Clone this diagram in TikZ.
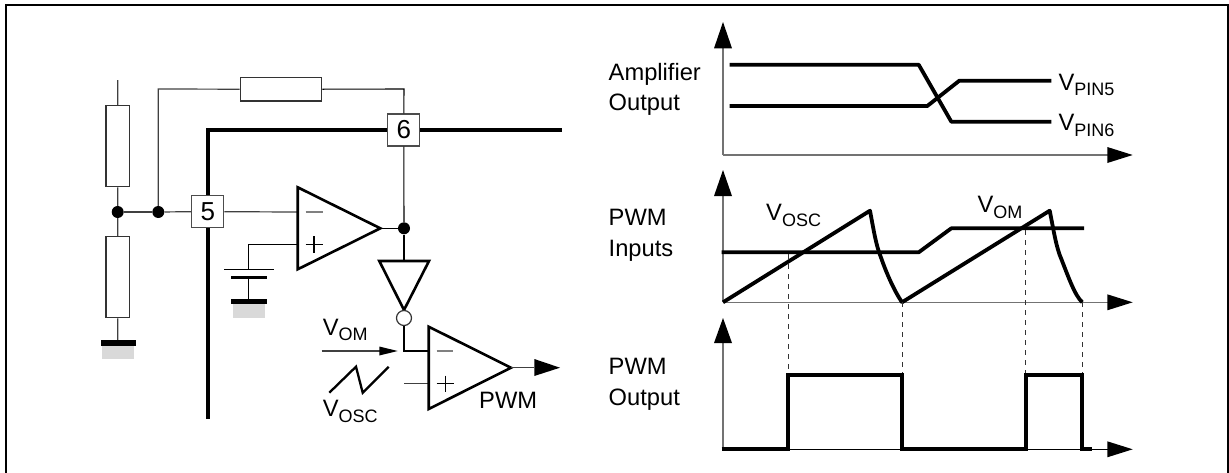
\documentclass[tikz,border=0pt]{standalone}
\usepackage{fontspec}
\setmainfont{Liberation Sans}
\tikzset{
  x=1pt,y=-1pt,
  thin wire/.style={line width=1.2pt,draw=black!75},
  hair/.style={line width=1.1pt,draw=black},
  thick wire/.style={line width=4pt,draw=black},
  curve/.style={line width=3.8pt,draw=black,line join=round},
  axis/.style={line width=1.6pt,draw=black!55},
  pinbox/.style={draw=black!70,line width=1.3pt,fill=white,minimum size=32pt,inner sep=0pt,font=\fontsize{26}{26}\selectfont},
  resbox/.style={draw=black!80,line width=1.3pt,fill=white,inner sep=0pt},
  amp/.style={line width=2.6pt,draw=black,fill=white,line join=miter},
  dot/.style={circle,fill=black,inner sep=0pt,minimum size=12pt},
  lab/.style={anchor=base west,inner sep=0pt,font=\fontsize{23.7}{27}\selectfont},
  dash line/.style={line width=1pt,draw=black!80,dash pattern=on 5pt off 5pt},
  solid head/.style={fill=black,draw=none},
}
\newcommand{\volt}[1]{V\raisebox{-5.5pt}{\fontsize{18}{18}\selectfont #1}}
\begin{document}
\begin{tikzpicture}
\useasboundingbox (0,0) rectangle (1229,472);
\draw[line width=2pt,draw=black] (6,473) -- (6,5) -- (1228,5) -- (1228,473);

% wires behind
\draw[thick wire,line cap=rect] (207.7,417.3) -- (207.7,130) -- (560,130);
\coordinate (restop) at (117.7,80);
\coordinate (gndL) at (117.7,342.7);
\node[dot] (j1) at (117.7,212) {};
\node[dot] (j2) at (158.3,212) {};
\node[dot] (j3) at (404,228.3) {};
\node[resbox,minimum width=23.7pt,minimum height=81pt] (r1) at (117.8,146.2) {};
\node[resbox,minimum width=23.7pt,minimum height=81pt] (r2) at (117.8,277.2) {};
\node[resbox,minimum width=81.4pt,minimum height=23.7pt] (r3) at (281,89.2) {};
\node[pinbox] (p5) at (207.8,211.7) {5};
\node[pinbox] (p6) at (403.8,130) {6};
\coordinate (fbcorner1) at (158.3,89);
\coordinate (fbcorner2) at (404,89);
\draw[thin wire] (restop) -- (r1.north);
\draw[thin wire] (r1.south) -- (j1);
\draw[thin wire] (j1) -- (r2.north);
\draw[thin wire] (r2.south) -- (gndL);
\draw[thin wire] (j1) -- (j2);
\draw[thin wire] (j2) -- (p5.west);
\draw[thin wire] (j2) -- (fbcorner1) -- (r3.west);
\draw[hair] (r3.east) -- (fbcorner2) -- (p6.north);
\draw[hair] (p6.south) -- (j3);

% ground left
\fill[black!15] (102,345.7) rectangle (134,359);
\fill (100.7,340.2) rectangle (136,345.7);

% op amp 1
\coordinate (a1m) at (297.7,212);
\coordinate (a1p) at (297.7,244.3);
\coordinate (a1o) at (380.3,228.3);
\coordinate (capT) at (248.3,269.3);
\coordinate (capB) at (248.3,277.3);
\coordinate (capG) at (248.3,300);
\draw[thin wire] (p5.east) -- (a1m);
\draw[hair] (a1p) -- (248.3,244.3) -- (capT);
\draw[hair] (224,269.3) -- (274,269.3);
\fill (231,275.5) rectangle (267,279);
\draw[hair] (capB) -- (capG);
\fill (231.3,299.2) rectangle (267,304.4);
\fill[black!15] (233,304.4) rectangle (265,317.7);
\draw[amp] (297.7,187.3) -- (a1o) -- (297.7,269.3) -- cycle;
\draw[line width=1.2pt,draw=black!50] (305.7,212) -- (322.7,212);
\draw[hair] (305.7,244.3) -- (322.7,244.3) (314,236) -- (314,252.6);
\draw[hair] (a1o) -- (j3);

% inverter
\draw[hair] (j3) -- (404,261);
\draw[amp] (379.3,261) -- (429,261) -- (404,310) -- cycle;
\node[circle,draw=black!80,line width=1.2pt,fill=white,minimum size=15pt,inner sep=0pt] (bub) at (404,318) {};

% op amp 2
\coordinate (a2m) at (428.7,351);
\coordinate (a2p) at (428.7,383.7);
\coordinate (a2pi) at (404,383.7);
\coordinate (a2o) at (511,367.7);
\coordinate (pwmtip) at (560,367.7);
\draw[hair] (bub.south) -- (404,351) -- (a2m);
\draw[thin wire] (a2pi) -- (a2p);
\draw[amp] (428.7,326.7) -- (a2o) -- (428.7,409) -- cycle;
\draw[line width=1.2pt,draw=black!50] (436.7,351) -- (453.3,351);
\draw[hair] (436.7,383.7) -- (453.7,383.7) (445.3,375.5) -- (445.3,392);
\draw[thin wire] (a2o) -- (534.3,367.7);
\fill (534.3,359) -- (pwmtip) -- (534.3,376) -- cycle;
% V_OM arrow
\coordinate (omA) at (321.7,351);
\coordinate (omB) at (380,351);
\draw[thin wire] (omA) -- (omB);
\fill (379.3,346.5) -- (397.7,351) -- (379.3,355.5) -- cycle;
\draw[line width=2.3pt,line join=miter] (329.3,392.7) -- (356,366.7) -- (362.7,392.7) -- (388.7,366.7);
\node[lab] (tom) at (322.7,335) {\volt{OM}};
\node[lab] (tosc) at (322.7,416.7) {\volt{OSC}};
\node[lab] (tpwm) at (479,408.3) {PWM};

% right axes
\coordinate (o1) at (723,155);
\coordinate (o2) at (723,302.3);
\coordinate (o3) at (723,449.3);
\draw[axis] (o1) -- (723,48);
\fill[solid head] (714,48.3) -- (723,22) -- (732,48.3) -- cycle;
\draw[axis] (o1) -- (1108,155);
\fill[solid head] (1107.3,147) -- (1132.7,155) -- (1107.3,163) -- cycle;
\draw[axis] (o2) -- (723,196);
\fill[solid head] (714,196) -- (723,170) -- (732,196) -- cycle;
\draw[axis] (o2) -- (1108,302.3);
\fill[solid head] (1107.3,294.3) -- (1132.7,302.3) -- (1107.3,310.3) -- cycle;
\draw[axis] (o3) -- (723,343);
\fill[solid head] (714,343) -- (723,318) -- (732,343) -- cycle;
\draw[hair] (o3) -- (1108,449.3);
\fill[solid head] (1107.3,441.3) -- (1132.7,449.3) -- (1107.3,457.3) -- cycle;

% graph 1
\draw[curve] (729.7,64.7) -- (918.7,64.7) -- (951.3,121.7) -- (1051.3,121.7);
\draw[curve] (729.7,106) -- (927.3,106) -- (959.3,80.7) -- (1051.3,80.7);
\node[lab] (tp5) at (1058.3,90) {\volt{PIN5}};
\node[lab] (tp6) at (1058.3,130.7) {\volt{PIN6}};

% graph 2
\draw[curve] (o2) -- (870,210.7) .. controls (874,232) and (876,245) .. (880.7,256.7) .. controls (887,275) and (895,292) .. (902,302.3) -- (1049.7,210.7) .. controls (1054,232) and (1056,247) .. (1061.7,260) .. controls (1068,276) and (1075,296) .. (1082.3,302.3);
\draw[curve] (721.7,252.3) -- (918.7,252.3) -- (951.3,228.3) -- (1084,228.3);
\node[lab] (tosc2) at (766,220.7) {\volt{OSC}};
\node[lab] (tom2) at (977.3,212.7) {\volt{OM}};

% dashes
\draw[dash line] (788,254) -- (788,375);
\draw[dash line] (902.3,302) -- (902.3,375);
\draw[dash line] (1025.7,230) -- (1025.7,375);
\draw[dash line] (1082.3,302) -- (1082.3,375);

% graph 3
\draw[line width=3.8pt,line join=miter,line cap=butt] (721.7,449.3) -- (788,449.3) -- (788,375) -- (902.3,375) -- (902.3,449.3) -- (1025.7,449.3) -- (1025.7,375) -- (1082.3,375) -- (1082.3,449.3) -- (1092,449.3);

% labels
\node[lab] (l1a) at (608.5,80) {Amplifier};
\node[lab] (l1b) at (608.5,110) {Output};
\node[lab] (l2a) at (608.5,225.7) {PWM};
\node[lab] (l2b) at (608.5,256.7) {Inputs};
\node[lab] (l3a) at (608.5,374) {PWM};
\node[lab] (l3b) at (608.5,405) {Output};
\end{tikzpicture}
\end{document}
